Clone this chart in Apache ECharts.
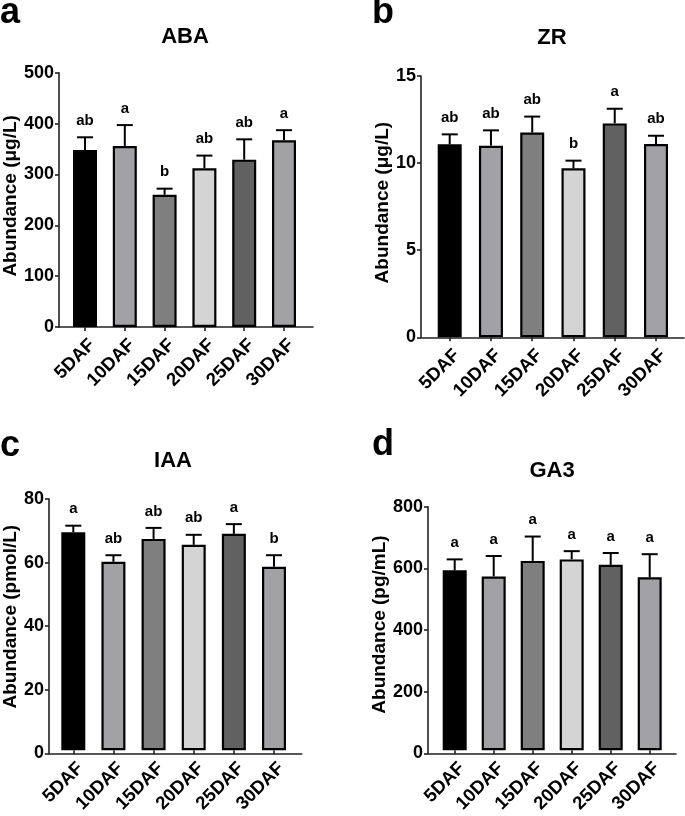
<!DOCTYPE html>
<html><head><meta charset="utf-8">
<script src="https://cdn.jsdelivr.net/npm/echarts@6/dist/echarts.min.js"></script>
<style>html,body{margin:0;padding:0;background:#fff}#c{width:685px;height:816px}</style>
</head><body><div id="c"></div>
<script>
// ---------- data ----------
const categories = ['5DAF', '10DAF', '15DAF', '20DAF', '25DAF', '30DAF'];
const barColors = ['#000000', '#a2a2a6', '#7f7f7f', '#d4d4d4', '#616161', '#a2a2a6'];

const abaMean = [348, 356, 260, 312, 329, 367];
const abaErr = [25, 41, 12, 25, 40, 20];
const abaLetters = ['ab', 'a', 'b', 'ab', 'ab', 'a'];

const zrMean = [11.08, 11.0, 11.75, 9.70, 12.28, 11.10];
const zrErr = [0.57, 0.88, 0.92, 0.44, 0.84, 0.47];
const zrLetters = ['ab', 'ab', 'ab', 'b', 'a', 'ab'];

const iaaMean = [69.4, 60.0, 67.3, 65.4, 68.9, 58.4];
const iaaErr = [2.1, 2.1, 3.5, 3.2, 3.1, 3.7];
const iaaLetters = ['a', 'ab', 'ab', 'ab', 'a', 'b'];

const ga3Mean = [591, 571, 622, 627, 609, 568];
const ga3Err = [36, 67, 80, 27, 39, 76];
const ga3Letters = ['a', 'a', 'a', 'a', 'a', 'a'];

const panelTitles = ['ABA', 'ZR', 'IAA', 'GA3'];
const panelLetters = ['a', 'b', 'c', 'd'];
const axisNames = ['Abundance (μg/L)', 'Abundance (μg/L)', 'Abundance (pmol/L)', 'Abundance (pg/mL)'];
const yMax = [500, 15, 80, 800];
const yInterval = [100, 5, 20, 200];

// ---------- layout ----------
const FONT = '"Liberation Sans", Arial, sans-serif';
const layout = [
  { axisX: 57, axisEnd: 313, top: 72.7, bottom: 327, c0: 85, c5: 284, nameGap: 39, namePad: 8,
    title: [185, 37], letter: [0, 13] },
  { axisX: 421, axisEnd: 684, top: 76, bottom: 337.3, c0: 449.7, c5: 656, nameGap: 28, namePad: 8,
    title: [552, 37.5], letter: [372, 13] },
  { axisX: 45.7, axisEnd: 301.7, top: 499, bottom: 753.3, c0: 73.3, c5: 274, nameGap: 28, namePad: 19,
    title: [173, 461], letter: [0, 446] },
  { axisX: 428, axisEnd: 676, top: 506.7, bottom: 753.3, c0: 454.7, c5: 649.7, nameGap: 38, namePad: 11,
    title: [552, 471], letter: [372, 445] }
];
const means = [abaMean, zrMean, iaaMean, ga3Mean];
const errs = [abaErr, zrErr, iaaErr, ga3Err];
const letters = [abaLetters, zrLetters, iaaLetters, ga3Letters];

const grid = [], xAxis = [], yAxis = [], series = [], graphic = [];
layout.forEach((L, p) => {
  const h = L.bottom - L.top;
  const sp = (L.c5 - L.c0) / 5;
  // wide grid: axis lines
  grid.push({ left: L.axisX, top: L.top, width: L.axisEnd - L.axisX, height: h });
  // narrow grid: bars
  grid.push({ left: L.c0 - sp / 2, top: L.top, width: sp * 6, height: h });
  const gW = p * 2, gN = p * 2 + 1;
  xAxis.push({
    gridIndex: gW, type: 'value', min: 0, max: 1, show: true,
    axisLine: { show: true, lineStyle: { color: '#222', width: 1.6 } },
    axisTick: { show: false }, axisLabel: { show: false }, splitLine: { show: false }
  });
  yAxis.push({
    gridIndex: gW, type: 'value', min: 0, max: yMax[p], interval: yInterval[p],
    axisLine: { show: true, lineStyle: { color: '#222', width: 1.6 } },
    axisTick: { show: true, inside: false, length: 4, lineStyle: { color: '#222', width: 1.6 } },
    axisLabel: { color: '#000', fontSize: 18, fontWeight: 'bold', fontFamily: FONT, margin: 5 },
    splitLine: { show: false },
    name: axisNames[p], nameLocation: 'middle', nameGap: L.nameGap,
    nameTextStyle: { color: '#000', fontSize: 19, fontWeight: 'bold', fontFamily: FONT, padding: [0, 0, 0, L.namePad] }
  });
  xAxis.push({
    gridIndex: gN, type: 'category', data: categories, boundaryGap: true,
    axisLine: { show: false },
    axisTick: { show: true, alignWithLabel: true, length: 4, lineStyle: { color: '#222', width: 1.6 } },
    axisLabel: { rotate: 45, color: '#000', fontSize: 18.5, fontWeight: 'bold', fontFamily: FONT, margin: 8,
      interval: 0, verticalAlign: 'top', lineHeight: 20 }
  });
  yAxis.push({ gridIndex: gN, type: 'value', min: 0, max: yMax[p], interval: yInterval[p], show: false });
  const axIdx = gN;
  series.push({
    type: 'bar', xAxisIndex: axIdx, yAxisIndex: axIdx, barWidth: 24,
    data: means[p].map((v, i) => ({ value: v, itemStyle: { color: barColors[i] } })),
    itemStyle: { borderColor: '#000', borderWidth: 2.2 },
    emphasis: { disabled: true }, z: 2
  });
  const lt = letters[p];
  series.push({
    type: 'custom', xAxisIndex: axIdx, yAxisIndex: axIdx, z: 3, clip: false,
    data: means[p].map((v, i) => [i, v, errs[p][i]]),
    encode: { x: 0, y: 1 },
    renderItem: function (params, api) {
      const i = api.value(0), m = api.value(1), e = api.value(2);
      const base = api.coord([i, m]);
      const top = api.coord([i, m + e]);
      const hw = 8;
      return {
        type: 'group', children: [
          { type: 'line', shape: { x1: base[0], y1: base[1], x2: top[0], y2: top[1] }, style: { stroke: '#000', lineWidth: 2 } },
          { type: 'line', shape: { x1: top[0] - hw, y1: top[1], x2: top[0] + hw, y2: top[1] }, style: { stroke: '#000', lineWidth: 2 } },
          { type: 'text', x: top[0], y: top[1] - 16.5,
            style: { text: lt[params.dataIndex], fill: '#000', font: 'bold 15px ' + FONT, align: 'center', verticalAlign: 'middle' } }
        ]
      };
    }
  });
  graphic.push({ type: 'text', x: L.title[0], y: L.title[1],
    style: { text: panelTitles[p], fill: '#000', font: 'bold 22px ' + FONT, align: 'center', verticalAlign: 'middle' } });
  graphic.push({ type: 'text', x: L.letter[0], y: L.letter[1],
    style: { text: panelLetters[p], fill: '#000', font: 'bold 36px ' + FONT, align: 'left', verticalAlign: 'middle' } });
});

const chart = echarts.init(document.getElementById('c'), null, { renderer: 'canvas' });
chart.setOption({
  backgroundColor: '#fff', animation: false,
  grid, xAxis, yAxis, series, graphic
});
</script></body></html>
